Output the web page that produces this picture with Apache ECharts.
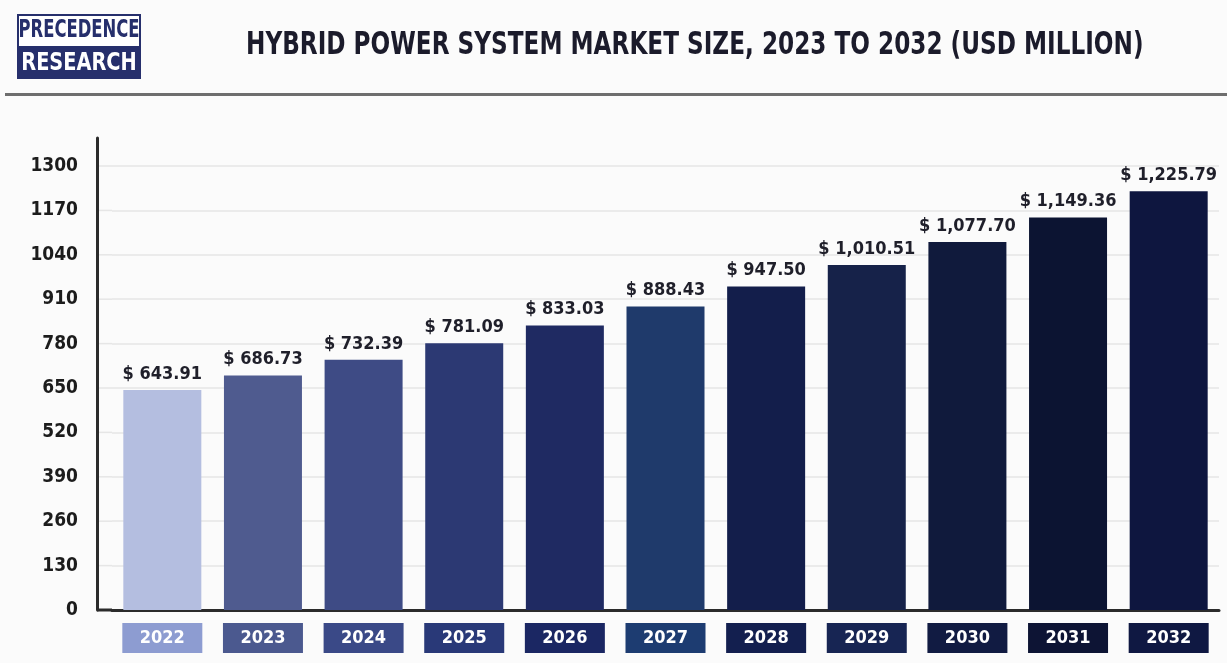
<!DOCTYPE html>
<html>
<head>
<meta charset="utf-8">
<title>Hybrid Power System Market Size</title>
<script src="https://cdn.jsdelivr.net/npm/echarts@6/dist/echarts.min.js"></script>
<style>
  html, body { margin: 0; padding: 0; background: #fbfbfb; }
  #chart { width: 1227px; height: 663px; }
</style>
</head>
<body>
<div id="chart"></div>
<script>
// Market size by year, USD million
const years = ['2022', '2023', '2024', '2025', '2026', '2027', '2028', '2029', '2030', '2031', '2032'];
const marketSize = [643.91, 686.73, 732.39, 781.09, 833.03, 888.43, 947.50, 1010.51, 1077.70, 1149.36, 1225.79];
const yTicks = [0, 130, 260, 390, 520, 650, 780, 910, 1040, 1170, 1300];

// Per-year fills for the bars and for the year badges under the axis
const barPalette = ['#b4bee0', '#4f5b8f', '#3e4b85', '#2c3973', '#1f2a62', '#1f3a6b', '#131e4b', '#162249', '#101a3c', '#0c1432', '#0e163f'];
const badgePalette = ['#8d9cd1', '#4b598f', '#3a4987', '#293978', '#1b2763', '#1d3c71', '#131f4f', '#172553', '#111b42', '#0d1434', '#0f1842'];

const FONT = '"DejaVu Sans Condensed", "Liberation Sans Narrow", sans-serif';
const GRID_COLOR = '#e6e6e6';
const AXIS_COLOR = '#2b2b2b';

const fmtMoney = v => '$ ' + v.toLocaleString('en-US', { minimumFractionDigits: 2, maximumFractionDigits: 2 });

// rich styles so each year label sits on its own coloured badge
const badgeRich = {};
years.forEach((y, i) => {
  badgeRich['b' + i] = {
    backgroundColor: badgePalette[i],
    color: '#ffffff',
    width: 80,
    height: 30,
    lineHeight: 30,
    align: 'center',
    fontFamily: FONT,
    fontWeight: 'bold',
    fontSize: 18
  };
});

const chart = echarts.init(document.getElementById('chart'), null, { renderer: 'canvas' });

const option = {
  backgroundColor: '#fbfbfb',
  animation: false,
  grid: { left: 112, right: 8, top: 138, bottom: 53, containLabel: false },
  xAxis: {
    type: 'category',
    data: years,
    axisLine: { show: true, lineStyle: { color: AXIS_COLOR, width: 3 } },
    axisTick: { show: false },
    axisLabel: {
      margin: 13,
      interval: 0,
      formatter: (val, idx) => '{b' + idx + '|' + val + '}',
      rich: badgeRich
    }
  },
  yAxis: {
    type: 'value',
    min: 0,
    max: 1382,
    interval: 130,
    offset: 15,
    axisLine: { show: true, lineStyle: { color: AXIS_COLOR, width: 3 } },
    axisTick: { show: false },
    axisLabel: {
      margin: 19,
      showMaxLabel: false,
      color: '#1c1c1c',
      fontFamily: FONT,
      fontWeight: 'bold',
      fontSize: 19,
      formatter: v => (yTicks.indexOf(v) >= 0 ? String(v) : '')
    },
    splitLine: { show: true, showMaxLine: false, lineStyle: { color: GRID_COLOR, width: 1.5 } }
  },
  series: [{
    type: 'bar',
    barWidth: 78,
    data: marketSize.map((v, i) => ({ value: v, itemStyle: { color: barPalette[i] } })),
    label: {
      show: true,
      position: 'top',
      distance: 7,
      color: '#1f1f2a',
      fontFamily: FONT,
      fontWeight: 'bold',
      fontSize: 18,
      formatter: p => fmtMoney(p.value)
    }
  }],
  graphic: [
    // logo: bordered box, white upper half and navy lower half
    { type: 'rect', shape: { x: 18, y: 15, width: 122, height: 63 }, style: { fill: '#ffffff', stroke: '#262f6c', lineWidth: 2 } },
    { type: 'rect', shape: { x: 18, y: 46, width: 122, height: 32 }, style: { fill: '#262f6c' } },
    { type: 'text', x: 79, y: 31, scaleX: 0.76, style: { text: 'PRECEDENCE', fill: '#262f6c', font: 'bold 24px ' + FONT, textAlign: 'center', textVerticalAlign: 'middle' } },
    { type: 'text', x: 79, y: 63, scaleX: 0.86, style: { text: 'RESEARCH', fill: '#ffffff', font: 'bold 25px ' + FONT, textAlign: 'center', textVerticalAlign: 'middle' } },
    // heading, narrowed horizontally to a condensed look
    { type: 'text', x: 246, y: 46, scaleX: 0.805, style: { text: 'HYBRID POWER SYSTEM MARKET SIZE, 2023 TO 2032 (USD MILLION)', fill: '#1b1b2b', font: 'bold 32px ' + FONT, textAlign: 'left', textVerticalAlign: 'middle' } },
    // rule under the header
    { type: 'rect', shape: { x: 5, y: 93, width: 1222, height: 3 }, style: { fill: '#6e6e6e' } }
  ]
};

chart.setOption(option);

// the y axis sits offset to the left of the grid: carry the baseline and
// the horizontal grid lines across that gap so they meet the axis
const gridLeft = option.grid.left;
const axisX = gridLeft - option.yAxis.offset;
const extras = [];
yTicks.forEach(t => {
  const py = chart.convertToPixel({ yAxisIndex: 0 }, t);
  if (t === 0) {
    extras.push({ type: 'line', z: 10, shape: { x1: axisX, y1: py, x2: gridLeft, y2: py }, style: { stroke: AXIS_COLOR, lineWidth: 3 } });
  } else {
    extras.push({ type: 'line', z: -1, shape: { x1: axisX, y1: py, x2: gridLeft, y2: py }, style: { stroke: GRID_COLOR, lineWidth: 1.5 } });
  }
});
chart.setOption({ graphic: option.graphic.concat(extras) });
</script>
</body>
</html>
